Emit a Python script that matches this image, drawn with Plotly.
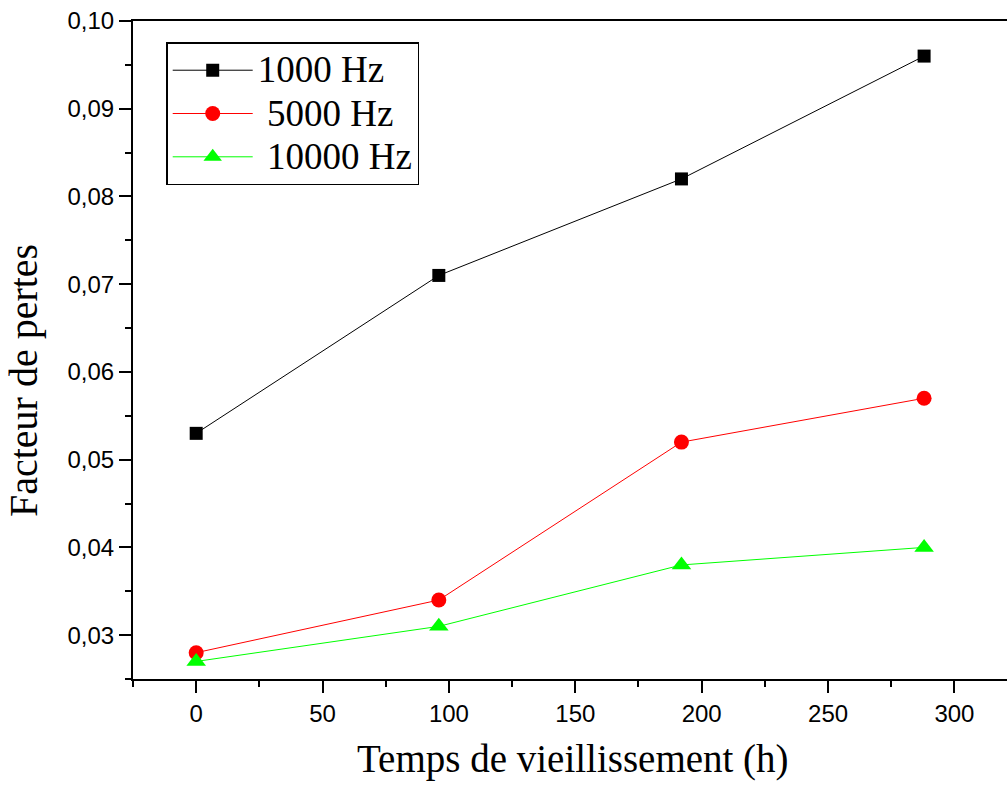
import plotly.graph_objects as go

x_hours = [0, 96, 192, 288]
f1000 = [0.053, 0.071, 0.082, 0.096]
f5000 = [0.028, 0.034, 0.052, 0.057]
f10000 = [0.027, 0.031, 0.038, 0.040]
names = ["1000 Hz", "5000 Hz", "10000 Hz"]
x_title = "Temps de vieillissement (h)"
y_title = "Facteur de pertes"

def big(s):
    return '<span style="font-size:37px">' + s + '</span>'

fig = go.Figure()
fig.add_trace(go.Scatter(x=x_hours, y=f1000, name=big(names[0]) + " ", mode="lines+markers",
                         line=dict(color="black", width=1),
                         marker=dict(symbol="square", size=13, color="black")))
fig.add_trace(go.Scatter(x=x_hours, y=f5000, name=big(" " + names[1]), mode="lines+markers",
                         line=dict(color="#FF0000", width=1),
                         marker=dict(symbol="circle", size=15, color="#FF0000")))
fig.add_trace(go.Scatter(x=x_hours, y=f10000, name=big(" " + names[2]), mode="lines+markers",
                         line=dict(color="#00FF00", width=1),
                         marker=dict(symbol="triangle-up", size=17, color="#00FF00")))

fig.update_layout(
    width=1007, height=785,
    margin=dict(l=133, r=0, t=21, b=106),
    paper_bgcolor="white", plot_bgcolor="white",
    separators=", ",
    showlegend=True,
    legend=dict(x=0.038, y=0.968, xanchor="left", yanchor="top",
                bordercolor="black", borderwidth=1.5,
                font=dict(family="Liberation Serif", size=31, color="black"),
                itemwidth=80, tracegroupgap=0, bgcolor="white"),
    xaxis=dict(range=[-25, 320.8], showline=True, linecolor="black", linewidth=2,
               mirror=True, showgrid=False, zeroline=False, automargin=False,
               tickmode="array", tickvals=[0, 50, 100, 150, 200, 250, 300],
               ticks="outside", ticklen=12, tickwidth=2, tickcolor="black",
               ticklabeloverflow="allow",
               minor=dict(ticks="outside", ticklen=6, tickwidth=2, tickcolor="black", dtick=25, tick0=0),
               tickfont=dict(family="Liberation Sans", size=24, color="black")),
    yaxis=dict(range=[0.025, 0.1], showline=True, linecolor="black", linewidth=2,
               showgrid=False, zeroline=False, automargin=False,
               tickmode="array", tickvals=[0.03, 0.04, 0.05, 0.06, 0.07, 0.08, 0.09, 0.10],
               tickformat=".2f", ticklabeloverflow="allow",
               ticks="outside", ticklen=12, tickwidth=2, tickcolor="black",
               minor=dict(ticks="outside", ticklen=6, tickwidth=2, tickcolor="black", dtick=0.005, tick0=0),
               tickfont=dict(family="Liberation Sans", size=24, color="black")),
    annotations=[
        dict(text=x_title, xref="paper", yref="paper", x=0.504, y=-0.1216,
             xanchor="center", yanchor="middle", showarrow=False,
             font=dict(family="Liberation Serif", size=39, color="black")),
        dict(text=y_title, xref="paper", yref="paper", x=-0.125, y=0.454,
             xanchor="center", yanchor="middle", showarrow=False, textangle=-90,
             font=dict(family="Liberation Serif", size=40, color="black")),
    ],
)

fig.write_html("out.html", config={"displayModeBar": False},
               post_script="document.body.style.margin='0';")
